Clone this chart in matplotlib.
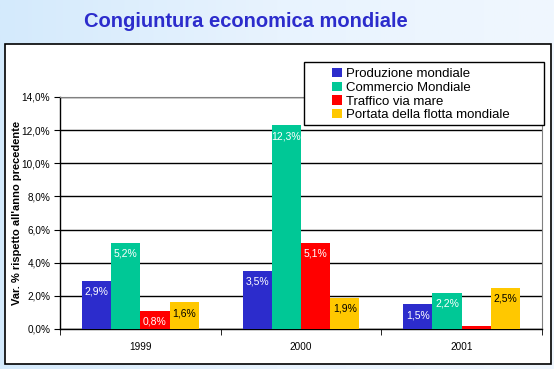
import numpy as np
from matplotlib import pyplot as plt
from matplotlib.patches import Rectangle
from matplotlib.colors import LinearSegmentedColormap

# Data
years = ["1999", "2000", "2001"]
produzione = [2.9, 3.5, 1.5]
commercio = [5.2, 12.3, 2.2]
traffico = [1.1, 5.2, 0.2]
portata = [1.6, 1.9, 2.5]
lbl_produzione = ["2,9%", "3,5%", "1,5%"]
lbl_commercio = ["5,2%", "12,3%", "2,2%"]
lbl_traffico = ["0,8%", "5,1%", ""]
lbl_portata = ["1,6%", "1,9%", "2,5%"]
series_names = ["Produzione mondiale", "Commercio Mondiale",
                "Traffico via mare", "Portata della flotta mondiale"]
colors = ["#2c2ccc", "#00c896", "#ff0000", "#ffc800"]
text_colors = ["white", "white", "white", "black"]

plt.rcParams["font.family"] = ["Liberation Sans", "DejaVu Sans"]

fig = plt.figure(figsize=(5.54, 3.69), dpi=100)

# background gradient
bg = fig.add_axes([0, 0, 1, 1], zorder=-10)
grad = np.linspace(0, 1, 256).reshape(1, -1)
cmap = LinearSegmentedColormap.from_list("bg", ["#d4eafc", "#e8f3fe", "#f0f7fe"])
bg.imshow(grad, aspect="auto", cmap=cmap, extent=[0, 1, 0, 1])
bg.set_axis_off()

# white panel
fig.patches.append(Rectangle((5 / 554, 5 / 369), 546 / 554, 320 / 369,
                             transform=fig.transFigure, facecolor="white",
                             edgecolor="black", linewidth=1.2, zorder=-5))

fig.text(0.444, 0.942, "Congiuntura economica mondiale", ha="center",
         va="center", fontsize=14.5, fontweight="bold", color="#2c2ccc")

ax = fig.add_axes([60 / 554, 40 / 369, 482 / 554, 232 / 369])
ax.set_facecolor("none")

x = np.arange(len(years))
w = 0.182
all_vals = [produzione, commercio, traffico, portata]
all_lbls = [lbl_produzione, lbl_commercio, lbl_traffico, lbl_portata]
for i, (vals, lbls) in enumerate(zip(all_vals, all_lbls)):
    pos = x + (i - 1.5) * w
    ax.bar(pos, vals, width=w, color=colors[i], label=series_names[i], zorder=3)
    for px, v, t in zip(pos, vals, lbls):
        if t:
            ax.annotate(t, (px, v), xytext=(0, -11), textcoords="offset pixels",
                        ha="center", va="center", fontsize=7.5,
                        color=text_colors[i], zorder=4)

ax.set_xlim(-0.5, 2.5)
ax.set_ylim(0, 14)
ax.set_yticks(np.arange(0, 15, 2))
ax.set_yticklabels([f"{v:.1f}%".replace(".", ",") for v in np.arange(0, 15, 2)],
                   fontsize=7.2)
ax.set_xticks(x)
ax.set_xticklabels(years, fontsize=7.2)
ax.set_xticks([-0.5, 0.5, 1.5, 2.5], minor=True)
ax.tick_params(axis="x", which="major", length=0, pad=9)
ax.tick_params(axis="x", which="minor", length=4, direction="out")
ax.tick_params(axis="y", length=4, direction="out", pad=3)
ax.yaxis.grid(True, color="black", linewidth=1, zorder=1)
ax.set_axisbelow(True)
for s in ["top", "right"]:
    ax.spines[s].set_color("gray")
ax.spines["left"].set_linewidth(1)
ax.spines["bottom"].set_linewidth(1)

ax.set_ylabel("Var. % rispetto all'anno precedente", fontsize=8,
              fontweight="bold")
ax.yaxis.set_label_coords(-0.078, 0.5)

# legend
ax.add_patch(Rectangle((0.506, 0.879), 0.498, 0.272, transform=ax.transAxes,
                       facecolor="white", edgecolor="black", linewidth=1,
                       clip_on=False, zorder=5))
leg = ax.legend(loc="upper left", bbox_to_anchor=(0.546, 1.166), frameon=False,
                fontsize=9.5, handlelength=0.7, handleheight=0.7,
                handletextpad=0.35, labelspacing=0.12, borderpad=0.2)
leg.set_zorder(6)

plt.savefig("out.png", dpi=100)
plt.close("all")
